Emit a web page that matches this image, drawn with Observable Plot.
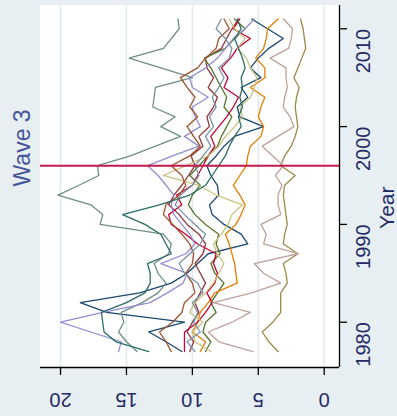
<!DOCTYPE html>
<html>
<head>
<meta charset="utf-8">
<script src="https://cdn.jsdelivr.net/npm/d3@7"></script>
<script src="https://cdn.jsdelivr.net/npm/@observablehq/plot@0.6"></script>
<style>
  html, body { margin: 0; padding: 0; background: #e8eff2; }
</style>
</head>
<body>
<div id="chart"></div>
<script>
// Observation years
const years = [1977, 1978, 1979, 1980, 1981, 1982, 1983, 1984, 1985, 1986,
               1987, 1988, 1989, 1990, 1991, 1992, 1993, 1994, 1995, 1996,
               1997, 1998, 1999, 2000, 2001, 2002, 2003, 2004, 2005, 2006,
               2007, 2008, 2009, 2010, 2011];

// One value per year for each unit (1977 ... 2011)
const navy = [10.8, 12.0, 13.3, 10.6, 16.5, 18.5, 14.0, 11.6, 10.4, 9.6,
              8.8, 5.8, 6.3, 7.6, 8.5, 8.7, 8.0, 8.1, 8.6, 8.9,
              8.2, 7.6, 6.8, 4.6, 6.4, 6.6, 5.8, 6.3, 4.8, 5.6,
              5.0, 4.2, 3.1, 4.3, 5.5];
const maroon = [10.2, 9.9, 10.4, 10.0, 9.5, 9.8, 9.4, 9.0, 9.4, 9.8,
                9.2, 9.0, 9.5, 10.4, 11.0, 11.8, 11.4, 10.8, 10.3, 9.8,
                10.1, 9.2, 9.5, 8.7, 8.9, 8.4, 8.1, 8.8, 8.4, 8.9,
                9.0, 7.8, 7.4, 7.0, 6.5];
const forest = [9.0, 8.6, 9.2, 9.0, 8.2, 8.6, 8.1, 7.6, 8.3, 8.6,
                7.9, 8.2, 8.0, 9.0, 9.8, 10.3, 10.0, 9.4, 10.2, 9.5,
                8.8, 8.1, 7.8, 7.4, 7.0, 7.6, 7.4, 7.8, 8.2, 8.6,
                9.1, 7.5, 6.8, 6.0, 6.8];
const dkorange = [9.4, 9.0, 10.0, 9.6, 9.4, 8.8, 8.3, 6.6, 6.7, 6.8,
                  7.0, 7.2, 7.5, 6.7, 6.3, 6.0, 6.4, 6.9, 6.4, 5.9,
                  5.8, 5.6, 4.8, 4.6, 5.0, 4.8, 4.5, 5.6, 4.5, 4.5,
                  5.2, 4.6, 4.4, 4.3, 3.5];
const teal = [14.2, 15.0, 15.6, 15.2, 15.4, 13.8, 12.6, 12.0, 12.6, 12.9,
              11.8, 11.6, 12.2, 17.0, 16.8, 17.7, 20.2, 18.6, 17.1, 17.2,
              14.7, 12.8, 10.9, 12.4, 11.3, 13.0, 12.9, 12.8, 10.0, 12.4,
              14.8, 12.2, 11.6, 11.0, 11.1];
const cranberry = [10.6, 10.6, 10.6, 9.6, 9.0, 8.5, 8.9, 8.3, 8.1, 8.4,
                   8.2, 9.6, 10.5, 11.6, 11.8, 10.8, 11.2, 10.0, 9.6, 9.2,
                   8.8, 8.3, 8.6, 8.0, 7.4, 6.9, 6.5, 7.6, 7.3, 7.8,
                   7.1, 6.6, 5.6, 6.9, 6.4];
const lavender = [15.6, 15.4, 17.7, 20.0, 16.8, 13.2, 11.9, 10.7, 10.4, 12.4,
                  10.5, 9.8, 10.2, 10.8, 11.4, 11.6, 11.4, 12.0, 12.6, 13.4,
                  11.5, 9.5, 10.6, 9.4, 9.8, 10.0, 8.8, 10.0, 10.2, 9.0,
                  8.1, 7.5, 6.9, 6.0, 5.3];
const khaki = [8.6, 9.8, 10.0, 9.2, 10.2, 9.8, 9.0, 8.4, 8.0, 7.6,
               8.1, 8.4, 7.8, 7.3, 7.0, 6.2, 8.2, 9.5, 12.2, 10.5,
               8.8, 8.0, 7.5, 6.8, 6.2, 6.4, 5.6, 5.3, 5.1, 5.6,
               5.9, 6.6, 6.0, 6.8, 7.2];
const sienna = [11.6, 12.0, 12.5, 11.5, 10.8, 10.6, 9.8, 10.0, 10.5, 10.0,
                9.9, 10.2, 10.8, 11.5, 12.2, 12.0, 11.0, 10.5, 10.8, 11.6,
                10.2, 9.4, 9.9, 10.4, 9.6, 10.2, 9.8, 10.4, 10.9, 9.6,
                9.0, 8.2, 8.0, 7.2, 7.6];
const emidblue = [9.8, 10.4, 9.4, 9.9, 9.6, 10.0, 9.2, 9.6, 10.6, 11.0,
                  10.2, 9.4, 9.0, 9.8, 10.6, 11.3, 10.9, 10.0, 9.5, 9.8,
                  9.2, 8.6, 9.0, 8.4, 8.7, 8.2, 8.5, 8.0, 7.6, 8.0,
                  7.2, 7.0, 7.5, 8.2, 7.8];
const emerald = [13.3, 15.8, 16.7, 16.8, 16.9, 15.0, 13.6, 13.2, 13.2, 13.4,
                 11.6, 12.0, 12.4, 13.6, 15.3, 12.5, 10.2, 9.0, 8.5, 8.0,
                 7.5, 7.2, 6.8, 6.3, 6.5, 6.2, 6.4, 6.2, 6.3, 6.0,
                 6.2, 6.5, 6.8, 6.3, 6.6];
const brown = [3.5, 4.2, 4.7, 3.9, 3.3, 3.3, 3.3, 2.8, 2.9, 3.1,
               2.0, 3.1, 3.0, 2.8, 2.9, 3.0, 3.1, 3.0, 2.2, 3.3,
               3.0, 2.5, 2.2, 2.0, 2.1, 2.2, 2.1, 1.9, 2.3, 2.0,
               1.7, 1.4, 1.5, 1.6, 1.8];
const erose = [5.4, 8.0, 8.8, 7.0, 5.6, 8.4, 5.5, 3.3, 4.6, 5.3,
               2.0, 4.6, 4.4, 4.8, 3.3, 3.5, 3.5, 3.2, 3.7, 3.1,
               3.9, 4.7, 3.5, 2.3, 2.6, 3.1, 3.0, 2.8, 2.9, 2.9,
               4.1, 2.7, 2.5, 2.4, 3.1];

// Series in drawing order with their pen colours
const seriesNames = ["navy", "maroon", "forest", "dkorange", "teal", "cranberry", "lavender",
                     "khaki", "sienna", "emidblue", "emerald", "brown", "erose"];
const seriesValues = [navy, maroon, forest, dkorange, teal, cranberry, lavender,
                      khaki, sienna, emidblue, emerald, brown, erose];
const seriesColors = ["#1a476f", "#90353b", "#55752f", "#e37e00", "#6e8e84", "#c10534", "#938dd2",
                      "#cac27e", "#a0522d", "#7b92a8", "#2d6d66", "#9c8847", "#bfa19c"];

// Axis ticks and the marked wave
const valueTicks = [0, 5, 10, 15, 20];
const yearTicks = [1980, 1990, 2000, 2010];
const waveYear = 1996;
const waveLabel = "Wave 3";
const yearTitle = "Year";

const rows = seriesNames.flatMap((name, s) =>
  years.map((year, i) => ({series: name, year, value: seriesValues[s][i]}))
);

const xDomain = [21.52, -1.16];
const yDomain = [1975.37, 2012.38];
const font = "Liberation Sans, Arial, Helvetica, sans-serif";
const textColor = "#232b66";

const chart = Plot.plot({
  width: 397,
  height: 416,
  marginLeft: 40,
  marginRight: 58,
  marginTop: 5,
  marginBottom: 49,
  style: {background: "#e8eff2", fontFamily: font},
  x: {domain: xDomain, axis: null},
  y: {domain: yDomain, axis: null},
  color: {domain: seriesNames, range: seriesColors},
  marks: [
    Plot.frame({fill: "white", stroke: "white"}),
    Plot.ruleX(valueTicks, {x: d => d, stroke: "#e1eaee", strokeWidth: 1.6}),
    Plot.line(rows, {x: "value", y: "year", z: "series", stroke: "series", strokeWidth: 1.3}),
    Plot.ruleY([waveYear], {y: d => d, stroke: "#c41a4a", strokeWidth: 2}),
    // axis lines
    Plot.ruleY([yDomain[0]], {y: d => d, stroke: "black", strokeWidth: 1.3}),
    Plot.ruleX([xDomain[1]], {x: d => d, stroke: "black", strokeWidth: 1.3}),
    // outward tick marks
    Plot.axisX({anchor: "bottom", ticks: valueTicks, tickSize: 8, tickFormat: () => "", label: null, stroke: "black", strokeWidth: 1.3}),
    Plot.axisY({anchor: "right", ticks: yearTicks, tickSize: 7, tickFormat: () => "", label: null, stroke: "black", strokeWidth: 1.3}),
    // tick labels
    Plot.text(valueTicks, {x: d => d, frameAnchor: "bottom", dy: 25, rotate: 180, text: d => String(d),
      fontSize: 20, fontFamily: font, fill: textColor}),
    Plot.text(yearTicks, {y: d => d, frameAnchor: "right", dx: 24, rotate: -90, text: d => String(d),
      fontSize: 20, fontFamily: font, fill: textColor}),
    // titles
    Plot.text([yearTitle], {frameAnchor: "right", dx: 48, rotate: -90, text: d => d,
      fontSize: 21, fontFamily: font, fill: textColor}),
    Plot.text([waveLabel], {frameAnchor: "left", dx: -18, rotate: -90, text: d => d,
      fontSize: 23, fontFamily: font, fill: "#44549a"})
  ]
});

document.getElementById("chart").append(chart);
</script>
</body>
</html>
